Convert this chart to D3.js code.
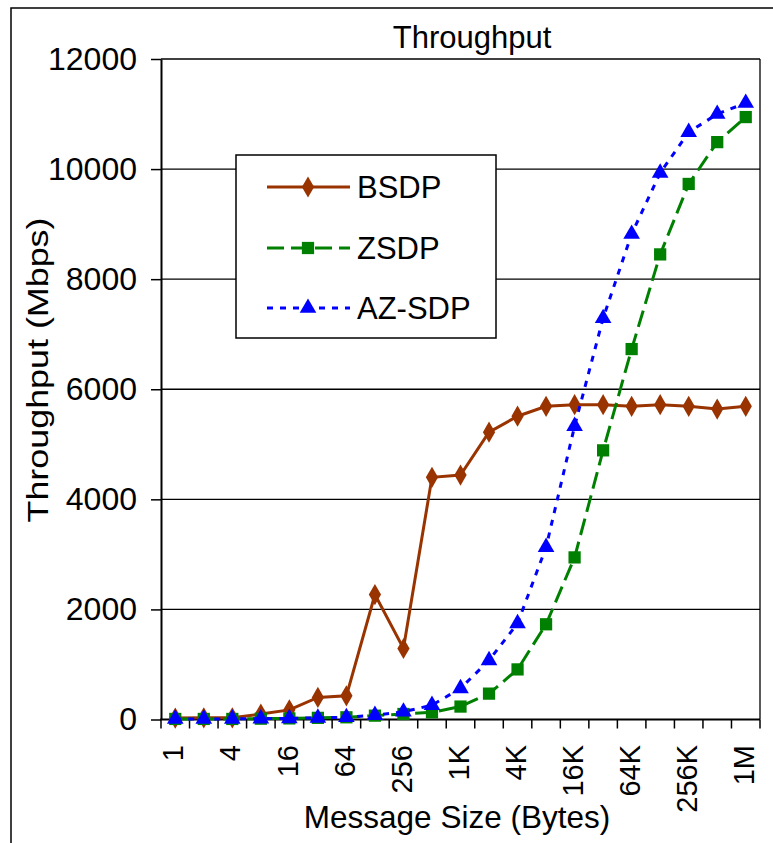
<!DOCTYPE html>
<html>
<head>
<meta charset="utf-8">
<script src="https://cdn.jsdelivr.net/npm/d3@7"></script>
<style>
  body { margin: 0; background: #fff; }
  text { font-family: "Liberation Sans", Arial, sans-serif; fill: #000; }
</style>
</head>
<body>
<svg id="svg" width="773" height="843"></svg>
<script>
// message sizes (bytes), one per point
const sizes = ["1","2","4","8","16","32","64","128","256","512","1K","2K","4K","8K","16K","32K","64K","128K","256K","512K","1M"];
const shownTicks = ["1","4","16","64","256","1K","4K","16K","64K","256K","1M"];
const yTicks = [0, 2000, 4000, 6000, 8000, 10000, 12000];

// throughput in Mbps
const bsdp  = [25, 30, 30, 100, 175, 400, 430, 2270, 1290, 4400, 4440, 5220, 5510, 5690, 5720, 5720, 5690, 5720, 5690, 5640, 5690];
const zsdp  = [10, 10, 10, 15, 20, 30, 40, 70, 100, 130, 235, 470, 910, 1730, 2945, 4890, 6730, 8450, 9730, 10490, 10945];
const azsdp = [10, 10, 10, 15, 20, 30, 40, 80, 140, 260, 565, 1075, 1745, 3130, 5330, 7290, 8820, 9930, 10670, 11000, 11200];

const seriesNames = ["BSDP", "ZSDP", "AZ-SDP"];

const svg = d3.select("#svg");

const plotLeft = 161, plotRight = 760, plotTop = 59, plotBottom = 719.5;

const x = d3.scaleBand().domain(sizes).range([plotLeft, plotRight]).padding(0);
const cx = d => x(d) + x.bandwidth() / 2;
const y = d3.scaleLinear().domain([0, 12000]).range([plotBottom, plotTop]);

// outer frame
svg.append("rect")
    .attr("x", 11).attr("y", 8)
    .attr("width", 800).attr("height", 900)
    .attr("fill", "none").attr("stroke", "#000").attr("stroke-width", 1.5);

// gridlines
svg.append("g")
    .selectAll("line")
    .data(yTicks.slice(1))
    .enter()
    .append("line")
    .attr("x1", plotLeft).attr("x2", plotRight)
    .attr("y1", d => y(d)).attr("y2", d => y(d))
    .attr("stroke", "#000").attr("stroke-width", 1.3);

// right border of plot
svg.append("line")
    .attr("x1", plotRight).attr("x2", plotRight)
    .attr("y1", plotTop).attr("y2", plotBottom)
    .attr("stroke", "#000").attr("stroke-width", 1.3);

// y axis
const yAxis = svg.append("g")
    .attr("transform", `translate(${plotLeft},0)`)
    .call(d3.axisLeft(y).tickValues(yTicks).tickFormat(d3.format("d"))
        .tickSize(10).tickSizeOuter(0).tickPadding(14));
yAxis.select(".domain").attr("stroke-width", 2);
yAxis.selectAll(".tick line").attr("stroke-width", 1.5);
yAxis.selectAll("text")
    .attr("fill", "#000")
    .style("font-size", "32px")
    .style("font-family", "Liberation Sans, Arial, sans-serif");

// x axis: ticks on category boundaries
const xAxis = svg.append("g")
    .attr("transform", `translate(0,${plotBottom})`);
xAxis.append("line")
    .attr("x1", plotLeft - 1).attr("x2", plotRight)
    .attr("stroke", "#000").attr("stroke-width", 2.2);
xAxis.selectAll(".bound")
    .data(sizes.concat(["end"]))
    .enter()
    .append("line")
    .attr("class", "bound")
    .attr("x1", (d, i) => i < sizes.length ? x(d) : plotRight)
    .attr("x2", (d, i) => i < sizes.length ? x(d) : plotRight)
    .attr("y1", 0).attr("y2", 9)
    .attr("stroke", "#000").attr("stroke-width", 1.5);
xAxis.selectAll(".lbl")
    .data(shownTicks)
    .enter()
    .append("text")
    .attr("class", "lbl")
    .attr("transform", d => `translate(${cx(d) - 2},${745 - plotBottom}) rotate(-90)`)
    .attr("text-anchor", "end")
    .attr("dy", "0.35em")
    .style("font-size", "29px")
    .text(d => d);

// titles
svg.append("text")
    .attr("x", 472).attr("y", 48)
    .attr("text-anchor", "middle")
    .style("font-size", "31px")
    .text("Throughput");

svg.append("text")
    .attr("x", 457).attr("y", 828)
    .attr("text-anchor", "middle")
    .style("font-size", "31.5px")
    .text("Message Size (Bytes)");

svg.append("text")
    .attr("transform", "translate(48,370) rotate(-90)")
    .attr("text-anchor", "middle")
    .attr("textLength", 305)
    .attr("lengthAdjust", "spacingAndGlyphs")
    .style("font-size", "30px")
    .text("Throughput (Mbps)");

// series
const line = d3.line()
    .x((d, i) => cx(sizes[i]))
    .y(d => y(d));

const styles = [
    { data: bsdp,  color: "#993300", dash: null,   shape: d3.symbolDiamond,  size: 130 },
    { data: zsdp,  color: "#008000", dash: "17,7", shape: d3.symbolSquare,   size: 150 },
    { data: azsdp, color: "#0000FF", dash: "6,7",  shape: d3.symbolTriangle, size: 120 }
];

styles.forEach(s => {
    svg.append("path")
        .datum(s.data)
        .attr("d", line)
        .attr("fill", "none")
        .attr("stroke", s.color)
        .attr("stroke-width", 3)
        .attr("stroke-dasharray", s.dash);
    svg.append("g")
        .selectAll("path")
        .data(s.data)
        .enter()
        .append("path")
        .attr("transform", (d, i) => `translate(${cx(sizes[i])},${y(d)})`)
        .attr("d", d3.symbol().type(s.shape).size(s.size))
        .attr("fill", s.color);
});

// legend
const legend = svg.append("g");
legend.append("rect")
    .attr("x", 236).attr("y", 155)
    .attr("width", 260).attr("height", 183)
    .attr("fill", "#fff").attr("stroke", "#000").attr("stroke-width", 1.5);

const rowY = [187, 248, 308];
styles.forEach((s, i) => {
    legend.append("line")
        .attr("x1", 267).attr("x2", 350)
        .attr("y1", rowY[i]).attr("y2", rowY[i])
        .attr("stroke", s.color).attr("stroke-width", 3)
        .attr("stroke-dasharray", s.dash);
    legend.append("path")
        .attr("transform", `translate(308,${rowY[i]})`)
        .attr("d", d3.symbol().type(s.shape).size(s.size))
        .attr("fill", s.color);
    legend.append("text")
        .attr("x", 357).attr("y", rowY[i])
        .attr("dy", "0.35em")
        .style("font-size", "31px")
        .text(seriesNames[i]);
});
</script>
</body>
</html>
